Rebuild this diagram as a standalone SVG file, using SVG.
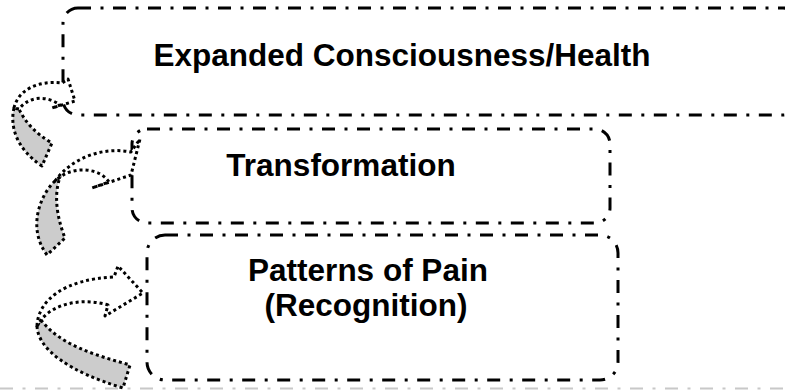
<svg xmlns="http://www.w3.org/2000/svg" width="785" height="390" viewBox="0 0 785 390">
<style>
.box{fill:none;stroke:#000;stroke-width:3;stroke-dasharray:13 9.5 3 9.5;}
.lbl{font-family:"Liberation Sans",Arial,sans-serif;font-weight:bold;font-size:31.5px;fill:#000;text-anchor:middle;}
.arr{fill:#fff;stroke:#000;stroke-width:3;stroke-dasharray:3 3;stroke-linejoin:round;}
.back{fill:#cccccc;stroke:#000;stroke-width:3;stroke-dasharray:3 3;stroke-linejoin:round;}
</style>
<rect width="785" height="390" fill="#fff"/>
<line x1="0" y1="388.5" x2="785" y2="388.5" stroke="#c8c8c8" stroke-width="2" stroke-dasharray="13 9.5 3 9.5"/>
<g id="node-expanded">
<rect class="box" x="63" y="8" width="735" height="107" rx="15"/>
<text class="lbl" x="402" y="66">Expanded Consciousness/Health</text>
</g>
<g id="node-transformation">
<rect class="box" x="132" y="129" width="478" height="94" rx="15"/>
<text class="lbl" x="341" y="176">Transformation</text>
</g>
<g id="node-patterns">
<rect class="box" x="147" y="235" width="471" height="145" rx="18"/>
<text class="lbl" x="368" y="281">Patterns of Pain</text>
<text class="lbl" x="366" y="316">(Recognition)</text>
</g>
<g id="connectors">
<g id="arrow-1">
<path class="back" d="M14,108 C10,125 15,148 42,166 L52,143 C36,134 25,122 19,109 Z"/>
<path class="arr" d="M14,108 C18,90 38,80 62,83 L68,79 L75,101 L52,108 L60,105 C48,96 30,95 19,109 Z"/>
</g>
<g id="arrow-2">
<path class="back" d="M55,181 C40,195 27,228 47,255 L65,238 C60,225 52,200 60,177 Z"/>
<path class="arr" d="M55,181 C70,160 100,146 131,152 L140,139 L131,175 L92,188 L109,182 C100,168 75,166 60,177 Z"/>
</g>
<g id="arrow-3">
<path class="back" d="M37,326 C38,350 70,372 123,388 L130,365 C95,355 60,345 41,320 Z"/>
<path class="arr" d="M37,326 C38,300 65,279 114,277 L118,266 L143,293 L105,316 L108,305 C85,298 55,302 41,320 Z"/>
</g>
</g>
</svg>
